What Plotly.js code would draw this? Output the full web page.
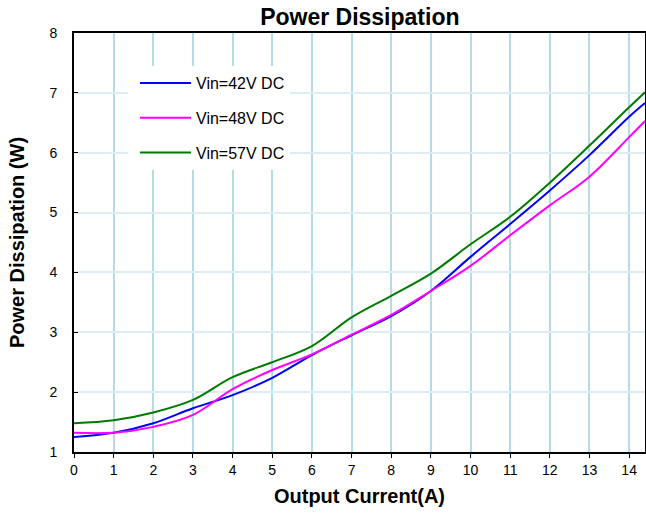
<!DOCTYPE html>
<html>
<head>
<meta charset="utf-8">
<script src="https://cdn.plot.ly/plotly-3.0.1.min.js"></script>
<style>html,body{margin:0;padding:0;background:#fff;}#chart{width:646px;height:513px;}</style>
</head>
<body>
<div id="chart"></div>
<script>
const current = [0,1,2,3,4,5,6,7,8,9,10,11,12,13,14,14.4];
const vin42 = [1.25,1.32,1.48,1.73,1.95,2.24,2.62,2.95,3.27,3.69,4.26,4.81,5.37,5.96,6.60,6.83];
const vin48 = [1.32,1.32,1.42,1.62,2.05,2.37,2.63,2.96,3.29,3.69,4.11,4.62,5.12,5.60,6.26,6.53];
const vin57 = [1.48,1.53,1.66,1.87,2.25,2.50,2.77,3.25,3.61,3.98,4.47,4.93,5.50,6.12,6.76,7.01];
const seriesNames = ["Vin=42V DC","Vin=48V DC","Vin=57V DC"];
const seriesColors = ["#0000ff","#ff00ff","#007a00"];
const xTicks = [0,1,2,3,4,5,6,7,8,9,10,11,12,13,14];
const yTicks = [1,2,3,4,5,6,7,8];

const font = "Arial, 'Liberation Sans', sans-serif";
const data = [vin42, vin48, vin57].map((ys, i) => ({
  x: current, y: ys, type: "scatter", mode: "lines",
  name: seriesNames[i], legendgroup: "g" + i,
  line: {color: seriesColors[i], width: 2, shape: "spline", smoothing: 1}
}));

const layout = {
  width: 646, height: 513,
  margin: {l: 74, r: 1, t: 33, b: 61},
  paper_bgcolor: "#fff", plot_bgcolor: "#fff",
  font: {family: font, size: 14, color: "#000"},
  title: {text: "<b>Power Dissipation</b>", font: {family: font, size: 23, color: "#000"},
          x: 0.557, xanchor: "center", y: 1 - 17/513, yanchor: "middle", yref: "container"},
  showlegend: true,
  legend: {x: (128 - 74) / 571, y: 1 - (66 - 33) / 419, xanchor: "left", yanchor: "top", bgcolor: "#fff",
           font: {family: font, size: 16, color: "#000"}, tracegroupgap: 11, traceorder: "grouped",
           itemwidth: 58},
  xaxis: {range: [0, 14.4], tickvals: xTicks, ticktext: xTicks.map(String),
          showgrid: true, gridcolor: "#b4dbe8", gridwidth: 2,
          showline: true, linecolor: "#000", linewidth: 2, mirror: true,
          ticks: "outside", ticklen: 4, tickcolor: "#000", zeroline: false,
          tickfont: {family: font, size: 14, color: "#000"},
          title: {text: "<b>Output Current(A)</b>", font: {family: font, size: 20, color: "#000"}, standoff: 12}},
  yaxis: {range: [1, 8], tickvals: yTicks, ticktext: yTicks.map(String),
          showgrid: true, gridcolor: "#dcedf4", gridwidth: 2,
          showline: true, linecolor: "#000", linewidth: 2, mirror: true,
          ticks: "inside", ticklen: 4, tickcolor: "#000", zeroline: false,
          ticklabelstandoff: 12,
          tickfont: {family: font, size: 14, color: "#000"},
          title: {text: "<b>Power Dissipation (W)</b>", font: {family: font, size: 20, color: "#000"}, standoff: 19}}
};
Plotly.newPlot("chart", data, layout, {displayModeBar: false, staticPlot: true}).then(gd => {
  gd.querySelectorAll(".legend .legendlines path").forEach(p => p.setAttribute("d", "M12,0h51"));
});
</script>
</body>
</html>
